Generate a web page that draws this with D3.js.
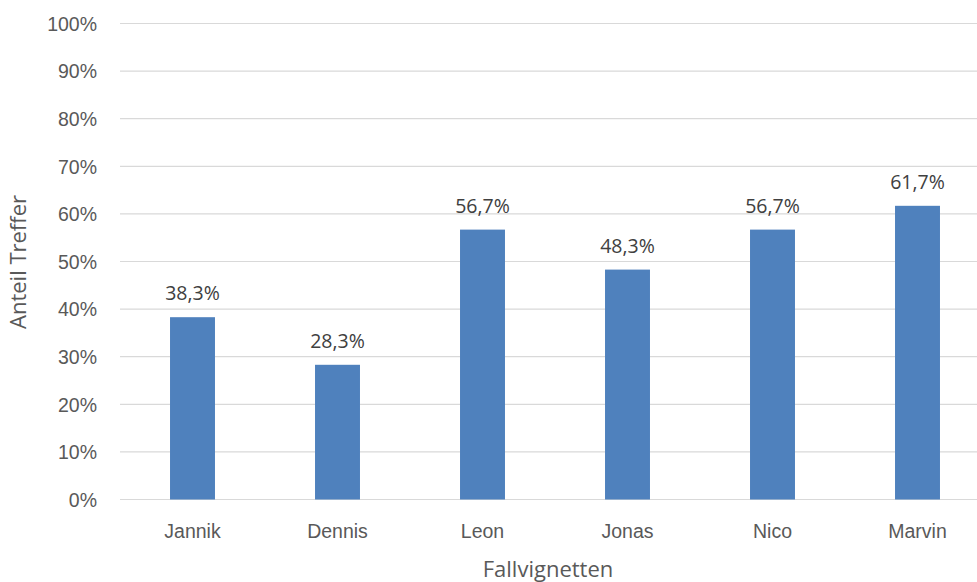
<!DOCTYPE html>
<html>
<head>
<meta charset="utf-8">
<script src="https://cdn.jsdelivr.net/npm/d3@7/dist/d3.min.js"></script>
<style>
  html, body { margin: 0; padding: 0; background: #fff; }
  svg { display: block; font-family: "Open Sans", sans-serif; }
</style>
</head>
<body>
<svg id="chart" width="977" height="582"></svg>
<script>
const categories = ["Jannik", "Dennis", "Leon", "Jonas", "Nico", "Marvin"];
const values = [38.3, 28.3, 56.7, 48.3, 56.7, 61.7];
const valueLabels = ["38,3%", "28,3%", "56,7%", "48,3%", "56,7%", "61,7%"];
const yTicks = [0, 10, 20, 30, 40, 50, 60, 70, 80, 90, 100];
const yTitle = "Anteil Treffer";
const xTitle = "Fallvignetten";

const svg = d3.select("#chart");

const x = d3.scaleBand().domain(categories).range([120, 990]).paddingInner(0.69).paddingOuter(0.345);
const y = d3.scaleLinear().domain([0, 100]).range([499.5, 23.5]);

// gridlines
svg.append("g").selectAll("line").data(yTicks).join("line")
  .attr("x1", 120).attr("x2", 990)
  .attr("y1", d => y(d)).attr("y2", d => y(d))
  .attr("stroke", "#d9d9d9").attr("stroke-width", 1.2);

// y axis labels
const yAxis = d3.axisLeft(y).tickValues(yTicks).tickFormat(d => d + "%").tickSize(0).tickPadding(0);
const yg = svg.append("g").attr("transform", "translate(97,0)").call(yAxis);
yg.select(".domain").remove();
yg.selectAll("text").attr("fill", "#595959").style("font-size", "19.5px").attr("dy", "0.35em");

// bars
svg.append("g").selectAll("rect").data(values).join("rect")
  .attr("x", (d, i) => x(categories[i]))
  .attr("width", x.bandwidth())
  .attr("y", d => y(d))
  .attr("height", d => y(0) - y(d))
  .attr("fill", "#4f81bd");

// value labels
svg.append("g").selectAll("text").data(values).join("text")
  .attr("x", (d, i) => x(categories[i]) + x.bandwidth() / 2)
  .attr("y", d => y(d) - 17)
  .attr("text-anchor", "middle")
  .attr("fill", "#404040")
  .style("font-size", "19.5px")
  .text((d, i) => valueLabels[i]);

// x axis labels
const xAxis = d3.axisBottom(x).tickSize(0).tickPadding(0);
const xg = svg.append("g").attr("transform", "translate(0,538)").call(xAxis);
xg.select(".domain").remove();
xg.selectAll("text").attr("fill", "#595959").style("font-size", "19.5px").attr("dy", "0");

// axis titles
svg.append("text")
  .attr("x", 548).attr("y", 577)
  .attr("text-anchor", "middle")
  .attr("fill", "#595959")
  .style("font-size", "22px")
  .text(xTitle);

svg.append("text")
  .attr("transform", "translate(26,262) rotate(-90)")
  .attr("text-anchor", "middle")
  .attr("fill", "#595959")
  .style("font-size", "22px")
  .text(yTitle);
</script>
</body>
</html>
